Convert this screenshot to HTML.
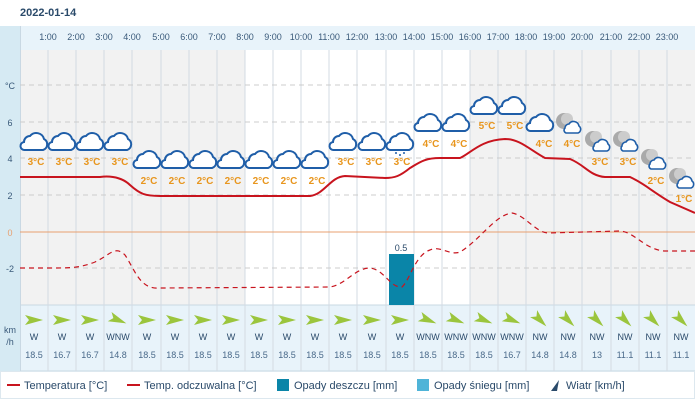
<!DOCTYPE html>
<html><head><meta charset="utf-8"><style>
body{margin:0;background:#fff;}
svg{display:block;font-family:"Liberation Sans",sans-serif;}
</style></head><body>
<svg width="695" height="408" viewBox="0 0 695 408" xmlns="http://www.w3.org/2000/svg">
<defs>
<g id="cl"><path d="M-9,8 H9 A6,6 0 0 0 10,-3 A8,8 0 0 0 -4,-6 A6,6 0 0 0 -10,0 A4,4 0 0 0 -9,8 Z" fill="#fff" stroke="#1f5ea8" stroke-width="2"/></g>
<g id="cs"><path d="M-6,5 H6 A4,4 0 0 0 7,-2 A5.5,5.5 0 0 0 -3,-4 A4,4 0 0 0 -7,0 A3,3 0 0 0 -6,5 Z" fill="#fff" stroke="#1f5ea8" stroke-width="1.6"/></g>
<g id="mn"><circle cx="-4" cy="-4" r="8" fill="#aaa"/><circle cx="-1" cy="-6" r="6" fill="#ccc"/><use href="#cs" x="4" y="3"/></g>
<polygon id="ar" points="-9,-5 9,0 -9,5 -5,0" fill="#9bc53d"/>
</defs>
<rect width="695" height="408" fill="#fff"/>
<text x="20" y="16" font-size="11" font-weight="bold" fill="#2a4a6a">2022-01-14</text>
<!-- left panel -->
<rect x="0" y="26" width="20" height="345" fill="#d6eaf3"/>
<!-- header -->
<rect x="20" y="26" width="675" height="24" fill="#e8f3fa"/>
<!-- plot bg -->
<rect x="20" y="50" width="675" height="255" fill="#f2f2f2"/>
<rect x="245" y="50" width="225" height="255" fill="#fff"/>
<!-- wind bg -->
<rect x="20" y="305" width="675" height="66" fill="#e8f3fa"/>
<line x1="20" y1="305" x2="695" y2="305" stroke="#c9d8e3"/>
<line x1="20" y1="371" x2="695" y2="371" stroke="#c9d8e3"/>
<line x1="20.5" y1="26" x2="20.5" y2="371" stroke="#c9d8e3"/>
<g stroke="#d3dbe3" stroke-width="1">
<line x1="48" y1="50" x2="48" y2="371"/><line x1="76" y1="50" x2="76" y2="371"/><line x1="104" y1="50" x2="104" y2="371"/><line x1="132" y1="50" x2="132" y2="371"/><line x1="161" y1="50" x2="161" y2="371"/><line x1="189" y1="50" x2="189" y2="371"/><line x1="217" y1="50" x2="217" y2="371"/><line x1="245" y1="50" x2="245" y2="371"/><line x1="273" y1="50" x2="273" y2="371"/><line x1="301" y1="50" x2="301" y2="371"/><line x1="329" y1="50" x2="329" y2="371"/><line x1="357" y1="50" x2="357" y2="371"/><line x1="386" y1="50" x2="386" y2="371"/><line x1="414" y1="50" x2="414" y2="371"/><line x1="442" y1="50" x2="442" y2="371"/><line x1="470" y1="50" x2="470" y2="371"/><line x1="498" y1="50" x2="498" y2="371"/><line x1="526" y1="50" x2="526" y2="371"/><line x1="554" y1="50" x2="554" y2="371"/><line x1="582" y1="50" x2="582" y2="371"/><line x1="611" y1="50" x2="611" y2="371"/><line x1="639" y1="50" x2="639" y2="371"/><line x1="667" y1="50" x2="667" y2="371"/>
</g>
<g stroke="#ccc" stroke-dasharray="5,4">
<line x1="20" y1="85" x2="695" y2="85"/><line x1="20" y1="122" x2="695" y2="122"/><line x1="20" y1="158" x2="695" y2="158"/><line x1="20" y1="195" x2="695" y2="195"/><line x1="20" y1="268" x2="695" y2="268"/>
</g>
<line x1="20" y1="232" x2="695" y2="232" stroke="#e8a070" stroke-width="1"/>
<g font-size="9" fill="#3a5a7a" text-anchor="middle">
<text x="48" y="40">1:00</text><text x="76" y="40">2:00</text><text x="104" y="40">3:00</text><text x="132" y="40">4:00</text><text x="161" y="40">5:00</text><text x="189" y="40">6:00</text><text x="217" y="40">7:00</text><text x="245" y="40">8:00</text><text x="273" y="40">9:00</text><text x="301" y="40">10:00</text><text x="329" y="40">11:00</text><text x="357" y="40">12:00</text><text x="386" y="40">13:00</text><text x="414" y="40">14:00</text><text x="442" y="40">15:00</text><text x="470" y="40">16:00</text><text x="498" y="40">17:00</text><text x="526" y="40">18:00</text><text x="554" y="40">19:00</text><text x="582" y="40">20:00</text><text x="611" y="40">21:00</text><text x="639" y="40">22:00</text><text x="667" y="40">23:00</text>
</g>
<g font-size="9" fill="#3a5a7a" text-anchor="middle">
<text x="10" y="89">°C</text><text x="10" y="126">6</text><text x="10" y="162">4</text><text x="10" y="199">2</text><text x="10" y="236" fill="#e8a070">0</text><text x="10" y="272">-2</text>
<text x="10" y="333">km</text><text x="10" y="345">/h</text>
</g>
<!-- rain -->
<rect x="389" y="254" width="25" height="51" fill="#0a85a8"/>
<text x="401" y="251" font-size="9" fill="#2a4a6a" text-anchor="middle">0.5</text>
<!-- lines -->
<path d="M20,177 L100,177 C115,175 125,180 130,185 C140,194 145,196 160,196 L310,196 C325,194 330,177 345,176 L385,178 C395,178 400,176 410,168 C420,162 425,158 440,158 L460,158 C470,154 480,140 505,139 C520,139 530,150 545,158 L570,159 C585,165 590,176 605,177 L630,177 C645,184 650,190 670,202 L695,213" fill="none" stroke="#c8141e" stroke-width="2"/>
<path d="M20,268 L50,268 C70,268 80,268 95,262 C110,255 115,245 125,255 C135,270 140,290 160,288 L330,287 C345,285 355,268 370,268 C385,270 390,288 402,287 C410,280 415,255 430,250 C440,245 450,256 460,252 C480,240 495,215 512,213 C525,215 535,232 548,233 L620,231 C635,232 645,250 665,251 L695,251" fill="none" stroke="#c8141e" stroke-width="1.2" stroke-dasharray="5,4"/>
<!-- icons -->
<use href="#cl" x="34" y="142"/><use href="#cl" x="62" y="142"/><use href="#cl" x="90" y="142"/><use href="#cl" x="118" y="142"/>
<use href="#cl" x="147" y="160"/><use href="#cl" x="175" y="160"/><use href="#cl" x="203" y="160"/><use href="#cl" x="231" y="160"/><use href="#cl" x="259" y="160"/><use href="#cl" x="287" y="160"/><use href="#cl" x="315" y="160"/>
<use href="#cl" x="343" y="142"/><use href="#cl" x="372" y="142"/><use href="#cl" x="400" y="142"/>
<g fill="#1f5ea8"><circle cx="396" cy="153" r="1"/><circle cx="400" cy="155" r="1"/><circle cx="404" cy="153" r="1"/></g>
<use href="#cl" x="428" y="123"/><use href="#cl" x="456" y="123"/>
<use href="#cl" x="484" y="106"/><use href="#cl" x="512" y="106"/>
<use href="#cl" x="540" y="123"/>
<use href="#mn" x="568" y="125"/><use href="#mn" x="597" y="143"/><use href="#mn" x="625" y="143"/><use href="#mn" x="653" y="161"/><use href="#mn" x="681" y="180"/>
<g font-size="10" font-weight="bold" fill="#e8961e" text-anchor="middle">
<text x="36" y="165">3°C</text><text x="64" y="165">3°C</text><text x="92" y="165">3°C</text><text x="120" y="165">3°C</text>
<text x="149" y="184">2°C</text><text x="177" y="184">2°C</text><text x="205" y="184">2°C</text><text x="233" y="184">2°C</text><text x="261" y="184">2°C</text><text x="289" y="184">2°C</text><text x="317" y="184">2°C</text>
<text x="346" y="165">3°C</text><text x="374" y="165">3°C</text><text x="402" y="165">3°C</text>
<text x="431" y="147">4°C</text><text x="459" y="147">4°C</text>
<text x="487" y="129">5°C</text><text x="515" y="129">5°C</text>
<text x="544" y="147">4°C</text><text x="572" y="147">4°C</text>
<text x="600" y="165">3°C</text><text x="628" y="165">3°C</text>
<text x="656" y="184">2°C</text><text x="684" y="202">1°C</text>
</g>
<!-- wind arrows -->
<use href="#ar" x="34" y="320"/><use href="#ar" x="62" y="320"/><use href="#ar" x="90" y="320"/><use href="#ar" transform="translate(118,320) rotate(22)"/>
<use href="#ar" x="147" y="320"/><use href="#ar" x="175" y="320"/><use href="#ar" x="203" y="320"/><use href="#ar" x="231" y="320"/><use href="#ar" x="259" y="320"/><use href="#ar" x="287" y="320"/><use href="#ar" x="315" y="320"/><use href="#ar" x="343" y="320"/><use href="#ar" x="372" y="320"/><use href="#ar" x="400" y="320"/>
<use href="#ar" transform="translate(428,320) rotate(22)"/><use href="#ar" transform="translate(456,320) rotate(22)"/><use href="#ar" transform="translate(484,320) rotate(22)"/><use href="#ar" transform="translate(512,320) rotate(22)"/>
<use href="#ar" transform="translate(540,320) rotate(45)"/><use href="#ar" transform="translate(568,320) rotate(45)"/><use href="#ar" transform="translate(597,320) rotate(45)"/><use href="#ar" transform="translate(625,320) rotate(45)"/><use href="#ar" transform="translate(653,320) rotate(45)"/><use href="#ar" transform="translate(681,320) rotate(45)"/>
<g font-size="9" fill="#2a4a6a" text-anchor="middle">
<text x="34" y="340">W</text><text x="62" y="340">W</text><text x="90" y="340">W</text><text x="118" y="340">WNW</text><text x="147" y="340">W</text><text x="175" y="340">W</text><text x="203" y="340">W</text><text x="231" y="340">W</text><text x="259" y="340">W</text><text x="287" y="340">W</text><text x="315" y="340">W</text><text x="343" y="340">W</text><text x="372" y="340">W</text><text x="400" y="340">W</text><text x="428" y="340">WNW</text><text x="456" y="340">WNW</text><text x="484" y="340">WNW</text><text x="512" y="340">WNW</text><text x="540" y="340">NW</text><text x="568" y="340">NW</text><text x="597" y="340">NW</text><text x="625" y="340">NW</text><text x="653" y="340">NW</text><text x="681" y="340">NW</text>
</g>
<g font-size="9" fill="#4a6a8a" text-anchor="middle">
<text x="34" y="358">18.5</text><text x="62" y="358">16.7</text><text x="90" y="358">16.7</text><text x="118" y="358">14.8</text><text x="147" y="358">18.5</text><text x="175" y="358">18.5</text><text x="203" y="358">18.5</text><text x="231" y="358">18.5</text><text x="259" y="358">18.5</text><text x="287" y="358">18.5</text><text x="315" y="358">18.5</text><text x="343" y="358">18.5</text><text x="372" y="358">18.5</text><text x="400" y="358">18.5</text><text x="428" y="358">18.5</text><text x="456" y="358">18.5</text><text x="484" y="358">18.5</text><text x="512" y="358">16.7</text><text x="540" y="358">14.8</text><text x="568" y="358">14.8</text><text x="597" y="358">13</text><text x="625" y="358">11.1</text><text x="653" y="358">11.1</text><text x="681" y="358">11.1</text>
</g>
<!-- legend -->
<rect x="0.5" y="371.5" width="694" height="27" fill="#fff" stroke="#dde8ef"/>
<g font-size="11" fill="#2a4a6a">
<line x1="7" y1="385" x2="20" y2="385" stroke="#c8141e" stroke-width="2"/><text x="24" y="389">Temperatura [°C]</text>
<line x1="127" y1="385" x2="140" y2="385" stroke="#c8141e" stroke-width="2"/><text x="144" y="389">Temp. odczuwalna [°C]</text>
<rect x="277" y="379" width="12" height="12" fill="#0a85a8"/><text x="294" y="389">Opady deszczu [mm]</text>
<rect x="417" y="379" width="12" height="12" fill="#4fb4d8"/><text x="434" y="389">Opady śniegu [mm]</text>
<polygon points="551,391 559,380 557,391" fill="#2a4a6a"/><text x="566" y="389">Wiatr [km/h]</text>
</g>
</svg>
</body></html>
